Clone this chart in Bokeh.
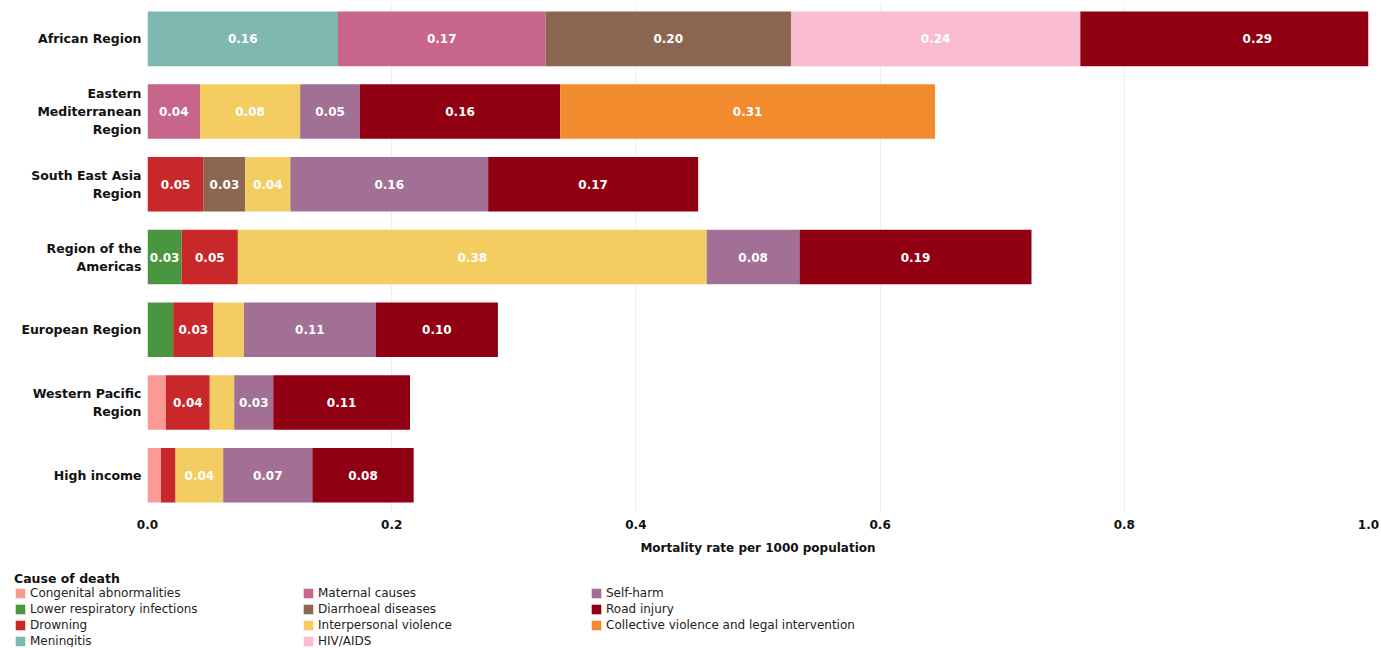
from bokeh.plotting import figure
from bokeh.layouts import column
from bokeh.models import (ColumnDataSource, FactorRange, Range1d, Legend, LegendItem,
                          NumeralTickFormatter, FixedTicker)
from bokeh.core.properties import value
from bokeh.embed import file_html
from bokeh.resources import INLINE

# ---------------- data ----------------
regions = ["African Region", "Eastern\nMediterranean\nRegion", "South East Asia\nRegion",
           "Region of the\nAmericas", "European Region", "Western Pacific\nRegion", "High income"]

causes = ["Congenital abnormalities", "Lower respiratory infections", "Drowning", "Meningitis",
          "Maternal causes", "Diarrhoeal diseases", "Interpersonal violence", "HIV/AIDS",
          "Self-harm", "Road injury", "Collective violence and legal intervention"]

colors = ["#f99a95", "#4a9640", "#c8282a", "#7fb8b0", "#c8658a", "#8b6650", "#f3cc62",
          "#f9bcd1", "#a26f95", "#900012", "#f28a2e"]

congenital    = [0.000, 0.000, 0.000, 0.000, 0.000, 0.015, 0.011]
lower_resp    = [0.000, 0.000, 0.000, 0.028, 0.021, 0.000, 0.000]
drowning      = [0.000, 0.000, 0.046, 0.046, 0.033, 0.036, 0.012]
meningitis    = [0.156, 0.000, 0.000, 0.000, 0.000, 0.000, 0.000]
maternal      = [0.170, 0.043, 0.000, 0.000, 0.000, 0.000, 0.000]
diarrhoeal    = [0.201, 0.000, 0.034, 0.000, 0.000, 0.000, 0.000]
interpersonal = [0.000, 0.082, 0.037, 0.384, 0.025, 0.020, 0.039]
hiv_aids      = [0.237, 0.000, 0.000, 0.000, 0.000, 0.000, 0.000]
self_harm     = [0.000, 0.049, 0.162, 0.076, 0.108, 0.032, 0.073]
road_injury   = [0.290, 0.164, 0.172, 0.190, 0.100, 0.112, 0.083]
collective    = [0.000, 0.307, 0.000, 0.000, 0.000, 0.000, 0.000]

series = [congenital, lower_resp, drowning, meningitis, maternal, diarrhoeal,
          interpersonal, hiv_aids, self_harm, road_injury, collective]

x_ticks = [0.0, 0.2, 0.4, 0.6, 0.8, 1.0]
label_min = 0.027  # segments narrower than this carry no value label

FONT = "DejaVu Sans"

# ---------------- main chart ----------------
p = figure(y_range=FactorRange(factors=list(reversed(regions))),
           x_range=Range1d(0, 1.0),
           width=1380, height=557,
           min_border_left=147, min_border_right=12, min_border_top=2, min_border_bottom=0,
           output_backend="svg", toolbar_location=None, tools="")
p.frame_align = False

sources = []
left = [0.0] * len(regions)
lab_x, lab_y, lab_t = [], [], []
for cause, col, vals in zip(causes, colors, series):
    ys, ls, rs = [], [], []
    for i, v in enumerate(vals):
        if v > 0:
            ys.append(regions[i])
            ls.append(left[i])
            rs.append(left[i] + v)
            if v >= label_min:
                lab_x.append(left[i] + v / 2)
                lab_y.append(regions[i])
                lab_t.append(f"{v:.2f}")
            left[i] += v
    src = ColumnDataSource(dict(y=ys, left=ls, right=rs))
    sources.append(src)
    p.hbar(y="y", left="left", right="right", height=0.75, source=src,
           fill_color=col, line_color=None)

lab_src = ColumnDataSource(dict(x=lab_x, y=lab_y, t=lab_t))
p.text(x="x", y="y", text="t", source=lab_src, text_color="white",
       text_font=value(FONT), text_font_style="bold", text_font_size="12px",
       text_align="center", text_baseline="middle")

p.xaxis.ticker = FixedTicker(ticks=x_ticks)
p.xaxis.formatter = NumeralTickFormatter(format="0.0")
p.xaxis.axis_label = "Mortality rate per 1000 population"
p.xaxis.axis_label_text_font = FONT
p.xaxis.axis_label_text_font_style = "bold"
p.xaxis.axis_label_text_font_size = "12px"
p.xaxis.axis_label_text_color = "#111111"
p.xaxis.axis_label_standoff = 9
p.xaxis.major_label_text_font = FONT
p.xaxis.major_label_text_font_style = "bold"
p.xaxis.major_label_text_font_size = "12px"
p.xaxis.major_label_text_color = "#111111"
p.xaxis.major_label_standoff = 2

for ax in (p.xaxis, p.yaxis):
    ax.axis_line_color = None
    ax.major_tick_line_color = None
    ax.minor_tick_line_color = None

p.yaxis.major_label_text_font = FONT
p.yaxis.major_label_text_font_style = "bold"
p.yaxis.major_label_text_font_size = "12.5px"
p.yaxis.major_label_text_color = "#111111"
p.yaxis.major_label_standoff = 0

p.ygrid.grid_line_color = None
p.xgrid.grid_line_color = "#efefef"
p.outline_line_color = None

# ---------------- legend (own small figure) ----------------
# hidden renderers sharing the bar sources supply the legend swatches
lg = figure(width=1380, height=90, x_range=Range1d(2, 3),
            y_range=FactorRange(factors=list(reversed(regions))),
            x_axis_location=None, y_axis_location=None,
            min_border_left=0, min_border_right=0, min_border_top=0, min_border_bottom=0,
            output_backend="svg", toolbar_location=None, tools="")
lg.frame_align = False
lg.grid.grid_line_color = None
lg.outline_line_color = None

items = []
for cause, col, src in zip(causes, colors, sources):
    r = lg.hbar(y="y", left="left", right="right", height=0.75, source=src,
                fill_color=col, line_color=None)
    r.visible = False
    items.append(LegendItem(label=cause, renderers=[r]))

legend = Legend(items=items, title="Cause of death", orientation="vertical", nrows=4,
                location="top_left", click_policy="none")
legend.title_text_font = FONT
legend.title_text_font_style = "bold"
legend.title_text_font_size = "12.5px"
legend.title_text_color = "#111111"
legend.title_standoff = 0
legend.label_text_font = FONT
legend.label_text_font_size = "12px"
legend.label_text_color = "#222222"
legend.glyph_width = 12
legend.glyph_height = 12
legend.label_height = 12
legend.label_width = 270
legend.label_standoff = 4
legend.spacing = 2
legend.padding = 0
legend.margin = 14
legend.border_line_color = None
legend.background_fill_color = None
lg.add_layout(legend, "center")

layout = column(p, lg)
open("out.html", "w").write(file_html(layout, INLINE))
